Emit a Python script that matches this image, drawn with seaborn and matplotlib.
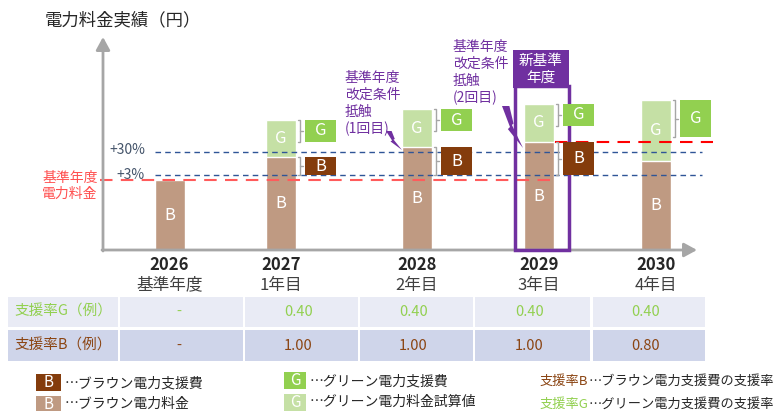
import matplotlib
matplotlib.use('Agg')
import matplotlib.pyplot as plt
import seaborn as sns
import pandas as pd
from matplotlib.patches import Rectangle, Polygon

# ---- data (units: 2026 fee = 100) ----
years = ['2026', '2027', '2028', '2029', '2030']
year_notes = ['基準年度', '1年目', '2年目', '3年目', '4年目']
brown_fee = [100, 133, 147, 154, 127]      # ブラウン電力料金
green_trial = [0, 53, 54, 55, 87]          # グリーン電力料金試算値 (stacked on top)
rate_g = ['-', '0.40', '0.40', '0.40', '0.40']
rate_b = ['-', '1.00', '1.00', '1.00', '0.80']
base_fee = 100        # 基準年度電力料金
line_plus3 = 107      # +3%
line_plus30 = 140     # +30%
new_base_fee = 154    # 新基準年度 (2029)

# ---- layout (pixels of the 783x411 canvas) ----
W, H = 783, 411
BASE_Y = 250
PX = 0.7                       # pixels per unit
bar_x = [169.5, 281, 417, 539, 656]
BAR_W = 30

C_BROWN_L = '#BF9A82'
C_BROWN_D = '#843C0C'
C_GREEN_L = '#C5E0A5'
C_GREEN_D = '#92D050'
C_PURPLE = '#7030A0'
C_GRAY = '#A6A6A6'
DOTS = '⋯'


def py(v):
    return BASE_Y - PX * v


sns.set_theme(style='white')
plt.rcParams['font.family'] = ['Noto Sans CJK JP', 'DejaVu Sans']

fig = plt.figure(figsize=(W / 100, H / 100), dpi=100)
ax = fig.add_axes([0, 1 - BASE_Y / H, 1, BASE_Y / H])
ax2 = fig.add_axes([0, 0, 1, 1], zorder=5)
ax2.patch.set_alpha(0)

df = pd.DataFrame({'x': bar_x, 'brown': brown_fee,
                   'total': [b + g for b, g in zip(brown_fee, green_trial)]})
sns.barplot(data=df, x='x', y='total', native_scale=True, orient='x', ax=ax,
            width=BAR_W / (bar_x[1] - bar_x[0]), color=C_GREEN_L, saturation=1,
            edgecolor='white', linewidth=1, errorbar=None)
sns.barplot(data=df, x='x', y='brown', native_scale=True, orient='x', ax=ax,
            width=BAR_W / (bar_x[1] - bar_x[0]), color=C_BROWN_L, saturation=1,
            edgecolor='white', linewidth=1, errorbar=None)
ax.set_xlim(0, W)
ax.set_ylim(0, BASE_Y / PX)
ax.axis('off')

# reference lines
ax.hlines(base_fee, 100, 555, colors='#FF5B5B', linestyles=(0, (6, 4)), lw=1.5, zorder=4)
ax.hlines(new_base_fee, 555, 713, colors='#FF0000', linestyles=(0, (6, 4)), lw=1.5, zorder=4)
ax.hlines([line_plus3, line_plus30], 155, 702, colors='#2F5597',
          linestyles=(0, (4, 3)), lw=1, zorder=4)

ax2.set_xlim(0, W)
ax2.set_ylim(H, 0)
ax2.axis('off')

# axes arrows
arr = dict(arrowstyle='-|>,head_length=0.55,head_width=0.3', color=C_GRAY, lw=2,
           mutation_scale=14, shrinkA=0, shrinkB=0)
ax2.annotate('', xy=(103, 37), xytext=(103, 251), arrowprops=arr)
ax2.annotate('', xy=(697, 250), xytext=(102, 250), arrowprops=arr)

ax2.text(45, 20, '電力料金実績（円）', fontsize=12.5, color='#262626', va='center')
ax2.text(145, 150, '+30%', fontsize=10, color='#44546A', ha='right', va='center')
ax2.text(145, 175, '+3%', fontsize=10, color='#44546A', ha='right', va='center')
ax2.text(70, 186, '基準年度\n電力料金', fontsize=10, color='#FF5050', ha='center',
         va='center', linespacing=1.2)

# bar labels, brackets and boxes
for i, x in enumerate(bar_x):
    top_b = py(brown_fee[i])
    top_t = py(brown_fee[i] + green_trial[i])
    ax2.text(x, (BASE_Y + top_b) / 2, 'B', color='white', fontsize=12, ha='center', va='center')
    if green_trial[i] > 0:
        ax2.text(x, (top_b + top_t) / 2, 'G', color='white', fontsize=12, ha='center', va='center')
        right = x + BAR_W / 2
        gh = 37 if i == 4 else 22
        spans = [(top_t, top_t + gh, C_GREEN_D, 'G')]
        if i < 4:
            spans.append((top_b, py(line_plus3), C_BROWN_D, 'B'))
        for y0, y1, col, lab in spans:
            bx = right + 4
            ax2.plot([right + 1.5, bx, bx, right + 1.5], [y0, y0, y1, y1], color=C_GRAY, lw=1, zorder=6)
            ax2.plot([bx, bx + 3], [(y0 + y1) / 2] * 2, color=C_GRAY, lw=1, zorder=6)
            ax2.add_patch(Rectangle((right + 9, y0), 31, y1 - y0, color=col, lw=0, zorder=6))
            ax2.text(right + 24.5, (y0 + y1) / 2, lab, color='white', fontsize=12,
                     ha='center', va='center', zorder=7)

# new base year frame
ax2.add_patch(Rectangle((515, 86), 54, BASE_Y - 86, fill=False, ec=C_PURPLE, lw=2.5, zorder=3))
ax2.add_patch(Rectangle((513, 50), 56, 38, color=C_PURPLE, lw=0, zorder=4))
ax2.text(541, 69, '新基準\n年度', color='white', fontsize=10.5, ha='center', va='center',
         linespacing=1.25, zorder=5)

# annotations with lightning bolts
bolt = [(0.0, 0.0), (0.35, 0.0), (0.55, 0.42), (0.47, 0.45), (1.0, 1.0), (0.28, 0.55), (0.38, 0.5)]
for tx, ty, txt, (bx0, by0, bx1, by1) in [
        (345, 71, '基準年度\n改定条件\n抵触\n(1回目)', (386, 131, 402, 150)),
        (453, 40, '基準年度\n改定条件\n抵触\n(2回目)', (502, 106, 523, 148))]:
    ax2.text(tx, ty, txt, color=C_PURPLE, fontsize=10, va='top', linespacing=1.25)
    pts = [(bx0 + u * (bx1 - bx0), by0 + v * (by1 - by0)) for u, v in bolt]
    ax2.add_patch(Polygon(pts, closed=True, color=C_PURPLE, lw=0))

# year labels
for x, yr, note in zip(bar_x, years, year_notes):
    ax2.text(x, 265, yr, fontsize=12, fontweight='bold', color='#262626', ha='center', va='center')
    ax2.text(x, 285, note, fontsize=12, color='#404040', ha='center', va='center')

# table
cols = [(8, 118), (120, 243), (245, 358), (360, 473), (475, 590), (593, 705)]
rows = [(297, 327, '#E9EBF5', '支援率G（例）', rate_g, '#92D050'),
        (330, 361, '#CFD5EA', '支援率B（例）', rate_b, '#8B4513')]
for y0, y1, bg, lab, vals, tc in rows:
    for j, (x0, x1) in enumerate(cols):
        ax2.add_patch(Rectangle((x0, y0), x1 - x0, y1 - y0, color=bg, lw=0))
        t = lab if j == 0 else vals[j - 1]
        ax2.text((x0 + x1) / 2 - (3 if j else 0), (y0 + y1) / 2, t, color=tc,
                 fontsize=10.5, ha='center', va='center')

# legend
leg = [(36, 374, 391, C_BROWN_D, 'B', 'ブラウン電力支援費', 383),
       (36, 396, 412, C_BROWN_L, 'B', 'ブラウン電力料金', 404),
       (284, 372, 389, C_GREEN_D, 'G', 'グリーン電力支援費', 381),
       (284, 394, 411, C_GREEN_L, 'G', 'グリーン電力料金試算値', 402)]
for x0, y0, y1, col, lab, txt, ty in leg:
    w = 25 if lab == 'B' else 22
    ax2.add_patch(Rectangle((x0, y0), w, y1 - y0, color=col, lw=0))
    ax2.text(x0 + w / 2, (y0 + y1) / 2, lab, color='white', fontsize=11, ha='center', va='center')
    ax2.text(x0 + w + 4, ty, DOTS + txt, fontsize=10, color='#262626', va='center')
for ty, head, hc, txt in [(381, '支援率B', '#8B4513', 'ブラウン電力支援費の支援率'),
                          (404, '支援率G', '#92D050', 'グリーン電力支援費の支援率')]:
    t0 = ax2.text(540, ty, head, fontsize=9.5, color=hc, va='center')
    ax2.annotate(DOTS + txt, xy=(1, 0.5), xycoords=t0, fontsize=9.5, color='#262626',
                 va='center', ha='left')

fig.savefig('out.png', dpi=100)
